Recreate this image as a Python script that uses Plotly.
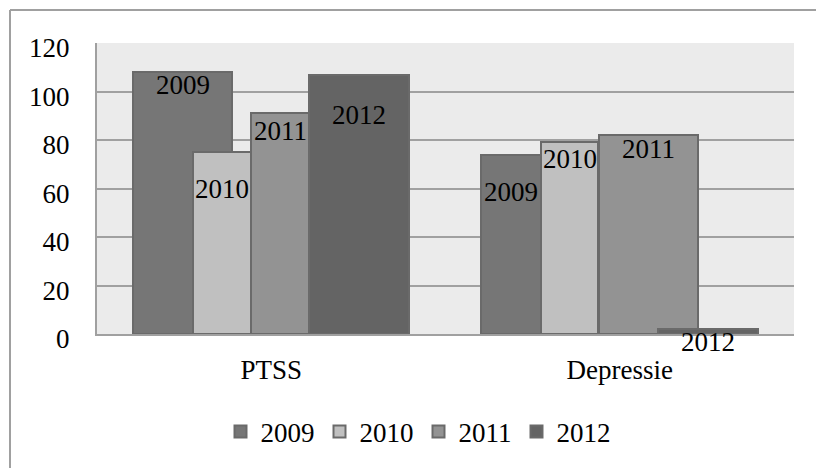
import plotly.graph_objects as go

categories = ["PTSS", "Depressie"]
series_names = ["2009", "2010", "2011", "2012"]
values_2009 = [108, 74]
values_2010 = [75, 79]
values_2011 = [91, 82]
values_2012 = [107, 2]
y_ticks = [0, 20, 40, 60, 80, 100, 120]

series_values = [values_2009, values_2010, values_2011, values_2012]
colors = ["#767676", "#c0c0c0", "#939393", "#646464"]

# bar geometry (category units), reproducing the reference's uneven rendering
bar_offsets = [[-0.396, -0.399], [-0.224, -0.227], [-0.057, -0.060], [0.109, 0.109]]
bar_widths = [[0.284, 0.172], [0.166, 0.166], [0.166, 0.284], [0.287, 0.287]]
# label vertical placement (value-axis units)
label_y = [[102.7, 58.4], [60.0, 72.0], [83.6, 76.2], [90.3, -3.3]]
Y_MAX = 120

FONT = "Liberation Serif"
FS = 27
fig = go.Figure()
for name, vals, col, offs, wids in zip(series_names, series_values, colors, bar_offsets, bar_widths):
    fig.add_trace(go.Bar(
        name=name, x=categories, y=vals, offset=offs, width=wids,
        marker=dict(color=col, line=dict(color="#6a6a6a", width=2)),
        hoverinfo="skip",
    ))

annotations = []
for si, name in enumerate(series_names):
    for ci in range(len(categories)):
        annotations.append(dict(
            x=ci + bar_offsets[si][ci] + bar_widths[si][ci] / 2,
            y=label_y[si][ci] / Y_MAX, xref="x", yref="paper", text=name, showarrow=False,
            xanchor="center", yanchor="middle",
            font=dict(family=FONT, size=FS, color="black"),
        ))

W, H = 816, 468
ml, mr, mt, mb = 97, 22, 43, 134
pw, ph = W - ml - mr, H - mt - mb

def px_x(px):
    return (px - ml) / pw

def px_y(py):
    return (H - mb - py) / ph

shapes = [
    dict(type="line", xref="paper", yref="paper", x0=px_x(10), x1=px_x(818), y0=px_y(10), y1=px_y(10),
         line=dict(color="#a0a0a0", width=2)),
    dict(type="line", xref="paper", yref="paper", x0=px_x(10), x1=px_x(10), y0=px_y(10), y1=px_y(470),
         line=dict(color="#a0a0a0", width=2)),
]

fig.update_layout(
    width=W, height=H, margin=dict(l=ml, r=mr, t=mt, b=mb),
    paper_bgcolor="white", plot_bgcolor="#ebebeb",
    barmode="overlay", bargap=0,
    font=dict(family=FONT, size=FS, color="black"),
    showlegend=True,
    legend=dict(orientation="h", x=px_x(418), xanchor="center", y=px_y(432), yanchor="middle",
                font=dict(family=FONT, size=FS), itemwidth=30, traceorder="normal",
                tracegroupgap=0),
    annotations=annotations, shapes=shapes,
    xaxis=dict(range=[-0.5, 1.5], showgrid=False, showline=True, linecolor="#a0a0a0", linewidth=2,
               ticks="", ticklabelstandoff=11, tickfont=dict(family=FONT, size=FS)),
    yaxis=dict(range=[0, Y_MAX], tickvals=y_ticks, showgrid=True, gridcolor="#a0a0a0", gridwidth=2,
               showline=True, linecolor="#a0a0a0", linewidth=2, zeroline=False, ticks="",
               ticklabelstandoff=20, ticklabelshift=5, tickfont=dict(family=FONT, size=FS)),
)

fig.write_html("out.html")
